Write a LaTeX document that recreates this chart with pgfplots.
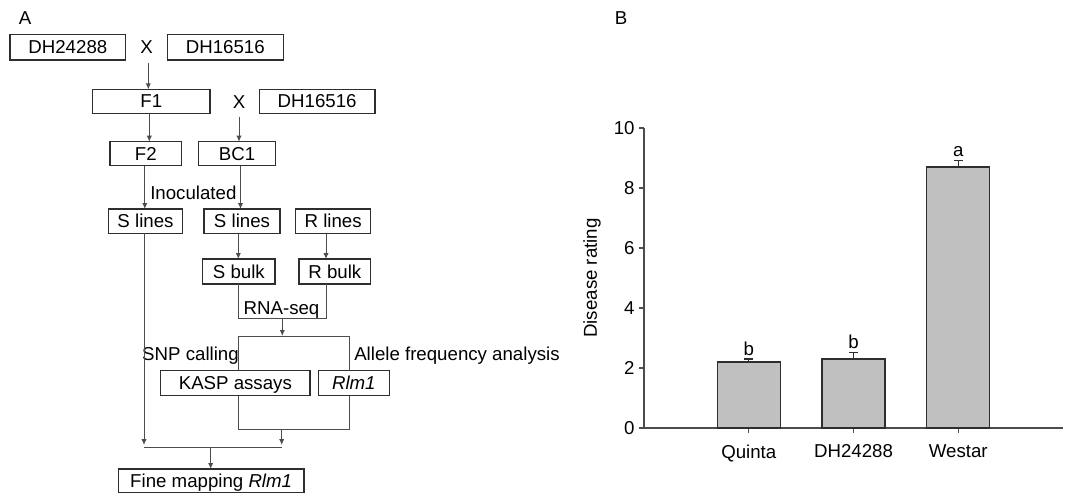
\documentclass[border=0pt]{standalone}
\usepackage{pgfplots}
\pgfplotsset{compat=1.18}
\usepackage{fontspec}
\setmainfont{Liberation Sans}
\usetikzlibrary{arrows.meta}
\newcommand\fs{\fontsize{14}{16}\selectfont}
\definecolor{ln}{gray}{0.3}
\definecolor{bd}{gray}{0.18}
\definecolor{barfill}{RGB}{192,192,192}
\newcommand\bx[5]{\draw[bxs] (#1,#2) rectangle (#3,#4); \node[t] at ({(#1+#3)/2},{(#2+#4)/2}) {#5};}
\begin{document}
\begin{tikzpicture}[font=\fs]
\begin{scope}[x=0.75pt,y=-0.75pt,
  bxs/.style={draw=bd, line width=1pt},
  t/.style={inner sep=0pt, text height=10pt, text depth=0pt},
  ar/.style={draw=ln, line width=0.75pt, -{Latex[length=4.5pt,width=4pt]}},
  l/.style={draw=ln, line width=0.75pt}]
\useasboundingbox (0,0) rectangle (1068,494);
% panel labels
\node[t] at (25,18) {A};
\node[t] at (621,18) {B};
% boxes
\bx{10}{34.3}{125.7}{60}{DH24288}
\bx{167.3}{34.3}{283.3}{60}{DH16516}
\bx{92.7}{89.3}{210}{113.3}{F1}
\bx{259.3}{89.3}{375}{113.3}{DH16516}
\bx{110}{141.7}{181.7}{165.7}{F2}
\bx{198.3}{141.7}{275.7}{165.7}{BC1}
\bx{108.3}{209}{182.7}{233.3}{S lines}
\bx{204}{209}{280}{233.3}{S lines}
\bx{295.7}{209}{370.7}{233.3}{R lines}
\bx{202.7}{259}{275}{284}{S bulk}
\bx{299}{259}{370.7}{284}{R bulk}
\bx{160.7}{370.7}{310}{395.7}{KASP assays}
\bx{318.3}{370.7}{389.3}{395.7}{\textit{Rlm1}}
\bx{118.3}{469}{304}{492.7}{Fine mapping \textit{Rlm1}}
% free text
\node[t] at (146.7,47) {X};
\node[t] at (239,101.5) {X};
\node[t,anchor=west] at (150,192.7) {Inoculated};
\node[t] at (281.5,307.5) {RNA-seq};
\node[t,anchor=east] at (239,353.7) {SNP calling};
\node[t,anchor=west] at (354,353.7) {Allele frequency analysis};
% connectors
\draw[ar] (148.3,63) -- (148.3,89.3);
\draw[ar] (149.3,113.3) -- (149.3,141.7);
\draw[ar] (239,116.5) -- (239,141.7);
\draw[ar] (144.8,165.7) -- (144.8,209);
\draw[ar] (240.5,165.7) -- (240.5,209);
\draw[ar] (144,233.3) -- (144,445);
\draw[ar] (238.3,233.3) -- (238.3,259);
\draw[ar] (326,233.3) -- (326,259);
\draw[l] (238.3,284) -- (238.3,318.3) -- (326,318.3) -- (326,284);
\draw[ar] (282.3,318.3) -- (282.3,336);
\draw[l] (238.3,370.7) -- (238.3,336) -- (349.3,336) -- (349.3,370.7);
\draw[l] (238.3,395.7) -- (238.3,429.3) -- (349.3,429.3) -- (349.3,395.7);
\draw[ar] (281.7,429.3) -- (281.7,445);
\draw[l] (144,447.3) -- (281.7,447.3);
\draw[ar] (210.7,447.3) -- (210.7,469);
\end{scope}
\begin{axis}[
  at={(483pt,-321pt)}, anchor=south west,
  scale only axis, width=314.25pt, height=225pt,
  xmin=0, xmax=4, ymin=0, ymax=10,
  axis lines*=left,
  axis line style={draw=ln, line width=0.85pt},
  tick align=outside, major tick length=3.5pt,
  tick style={draw=ln, line width=0.85pt},
  xtick={1,2,3}, xticklabels={Quinta,DH24288,Westar},
  ytick={0,2,4,6,8,10},
  /pgf/number format/assume math mode=true,
  tick label style={font=\fs},
  xticklabel style={yshift=-5.5pt},
  ylabel={Disease rating}, label style={font=\fs},
  every axis y label/.style={at={(axis description cs:-0.124,0.5)}, rotate=90, anchor=center},
  ybar, bar width=47.25pt,
  clip=false,
]
\addplot[fill=barfill, draw=bd, line width=0.9pt,
  error bars/.cd, y dir=plus, y explicit,
  error bar style={draw=bd, line width=0.85pt},
  error mark options={rotate=90, mark size=3.4pt, draw=bd, line width=0.85pt}]
  coordinates {(1,2.2) +- (0,0.1) (2,2.3) +- (0,0.21) (3,8.7) +- (0,0.22)};
\node[anchor=south, inner sep=2.5pt] at (axis cs:1,2.3) {b};
\node[anchor=south, inner sep=2.5pt] at (axis cs:2,2.51) {b};
\node[anchor=south, inner sep=2.5pt] at (axis cs:3,8.92) {a};
\end{axis}
\end{tikzpicture}
\end{document}
